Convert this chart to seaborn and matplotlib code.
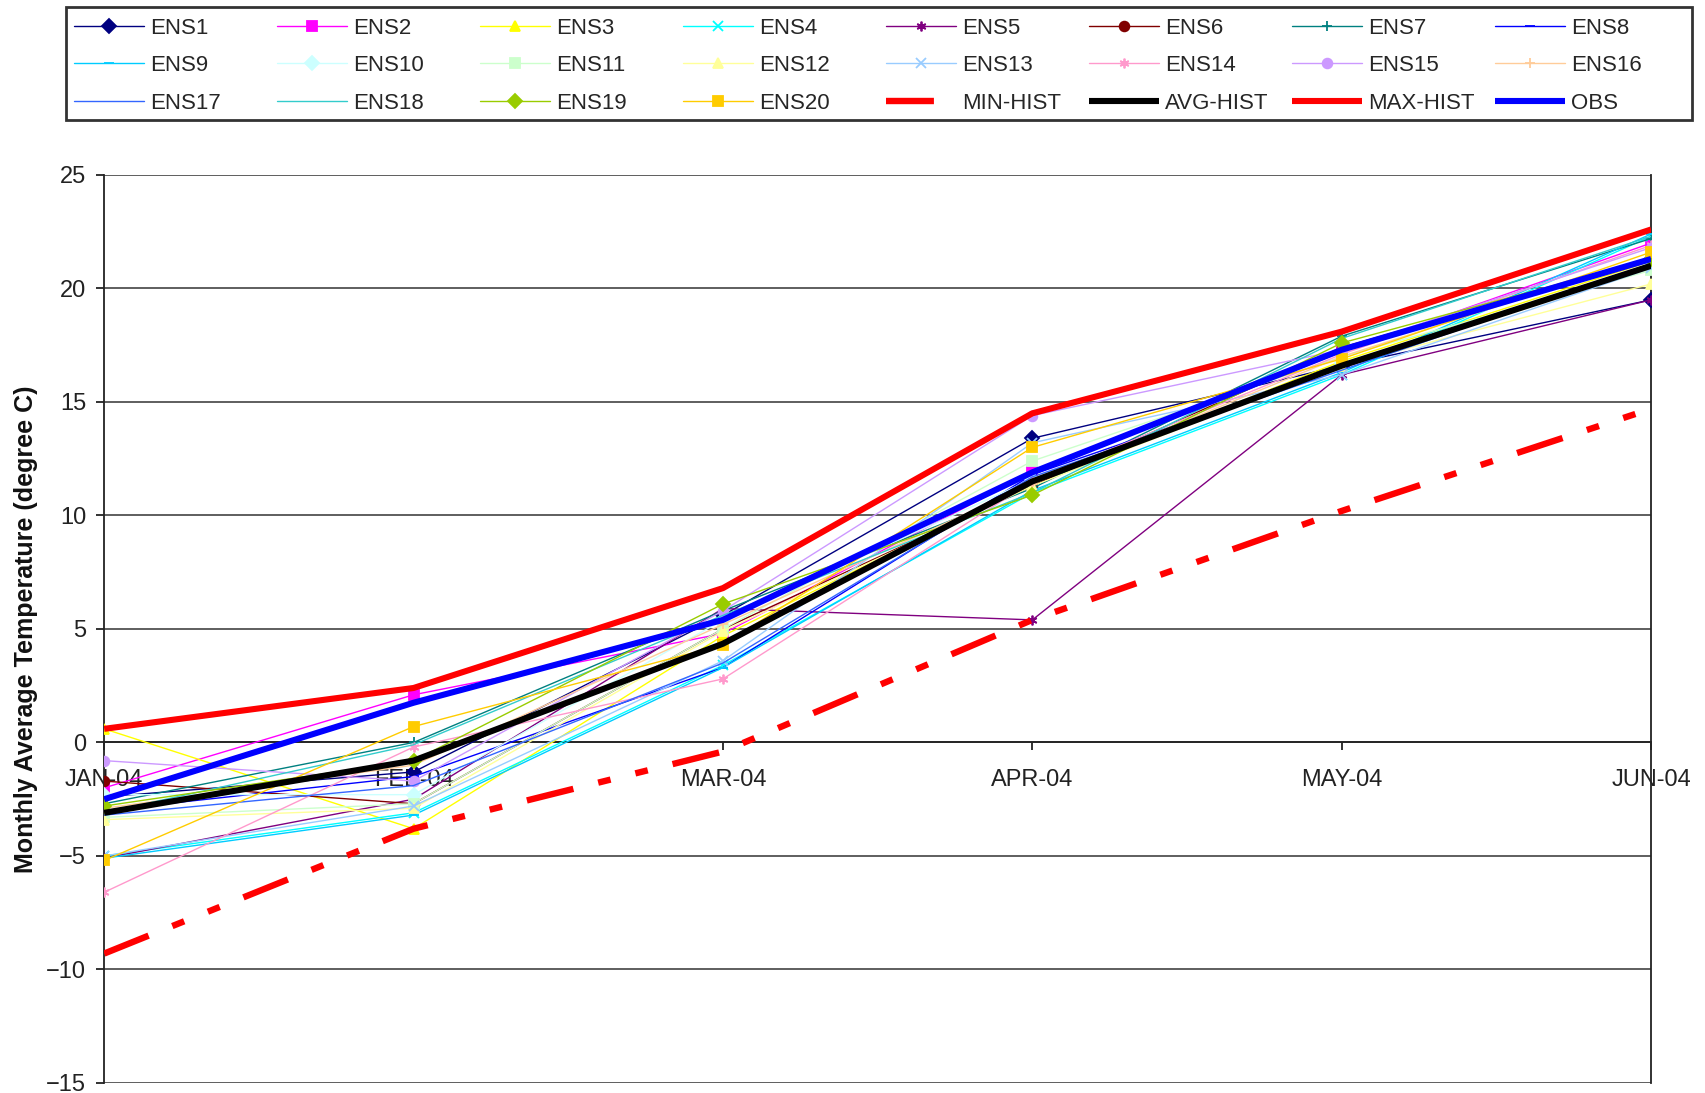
import numpy as np
import pandas as pd
import matplotlib
matplotlib.use("Agg")
import matplotlib.pyplot as plt
from matplotlib.patches import Rectangle
import seaborn as sns

months = ["JAN-04", "FEB-04", "MAR-04", "APR-04", "MAY-04", "JUN-04"]

ens1 = [-2.4, -1.3, 5.6, 13.4, 16.6, 19.5]
ens2 = [-2.0, 2.1, 4.8, 11.9, 17.2, 22.0]
ens3 = [0.6, -3.8, 4.7, 11.4, 16.8, 21.2]
ens4 = [-5.0, -3.1, 3.4, 11.0, 16.2, 22.3]
ens5 = [-5.1, -2.5, 5.9, 5.4, 16.2, 19.5]
ens6 = [-1.7, -2.7, 5.0, 11.3, 17.4, 21.3]
ens7 = [-2.7, 0.0, 5.8, 11.2, 17.9, 22.2]
ens8 = [-3.0, -1.5, 3.3, 11.8, 16.5, 21.0]
ens9 = [-5.1, -3.2, 3.3, 11.1, 16.3, 22.4]
ens10 = [-2.3, -2.3, 5.4, 11.6, 16.7, 21.0]
ens11 = [-3.3, -2.7, 5.0, 12.4, 17.0, 20.8]
ens12 = [-3.4, -2.9, 4.9, 11.3, 16.6, 20.2]
ens13 = [-5.0, -2.8, 3.6, 13.2, 16.2, 20.9]
ens14 = [-6.6, -0.2, 2.8, 11.5, 17.1, 21.9]
ens15 = [-0.8, -1.7, 5.8, 14.4, 17.3, 21.8]
ens16 = [-2.9, -1.0, 5.2, 11.4, 17.0, 21.4]
ens17 = [-3.2, -1.9, 3.5, 11.7, 16.4, 21.1]
ens18 = [-3.1, -0.1, 5.6, 11.0, 17.8, 22.3]
ens19 = [-2.8, -0.8, 6.1, 10.9, 17.6, 21.3]
ens20 = [-5.2, 0.7, 4.3, 13.0, 16.9, 21.6]
min_hist = [-9.3, -3.8, -0.4, 5.4, 10.2, 14.7]
avg_hist = [-3.1, -0.8, 4.35, 11.5, 16.6, 21.0]
max_hist = [0.6, 2.4, 6.8, 14.5, 18.1, 22.6]
obs = [-2.5, 1.75, 5.4, 11.9, 17.3, 21.3]

ens_values = [ens1, ens2, ens3, ens4, ens5, ens6, ens7, ens8, ens9, ens10,
              ens11, ens12, ens13, ens14, ens15, ens16, ens17, ens18, ens19, ens20]
ens_names = [f"ENS{i}" for i in range(1, 21)]
ens_colors = ["#000080", "#FF00FF", "#FFFF00", "#00FFFF", "#800080", "#800000",
              "#008080", "#0000FF", "#00CCFF", "#CCFFFF", "#CCFFCC", "#FFFF99",
              "#99CCFF", "#FF99CC", "#CC99FF", "#FFCC99", "#3366FF", "#33CCCC",
              "#99CC00", "#FFCC00"]
ens_markers = ["D", "s", "^", "x", (6, 2, 0), "o", "+", "_", "_", "D",
               "s", "^", "x", (6, 2, 0), "o", "+", None, None, "D", "s"]

sns.set_theme(style="white")
plt.rcParams["font.family"] = ["Liberation Sans", "DejaVu Sans"]

fig = plt.figure(figsize=(17.05, 10.93), dpi=100)
ax = fig.add_axes([0.0611, 0.0092, 0.9073, 0.8307])

x = np.arange(len(months))
handles = []
for name, vals, col, mk in zip(ens_names, ens_values, ens_colors, ens_markers):
    df = pd.DataFrame({"x": x, "y": vals})
    sns.lineplot(data=df, x="x", y="y", ax=ax, color=col, linewidth=1.0,
                 marker=mk if mk is not None else "", markersize=7,
                 markeredgecolor=col, markeredgewidth=1.3, label=name, zorder=3)
    handles.append(ax.get_lines()[-1])

specs = [("MIN-HIST", min_hist, "#FF0000", 4.6, (7.5, 4.0, 2.0, 4.0, 2.0, 4.0)),
         ("AVG-HIST", avg_hist, "#000000", 4.4, None),
         ("MAX-HIST", max_hist, "#FF0000", 4.4, None),
         ("OBS", obs, "#0000FF", 4.4, None)]
for name, vals, col, lw, dash in specs:
    df = pd.DataFrame({"x": x, "y": vals})
    sns.lineplot(data=df, x="x", y="y", ax=ax, color=col, linewidth=lw,
                 label=name, zorder=4)
    ln = ax.get_lines()[-1]
    ln.set_solid_capstyle("butt")
    if dash is not None:
        ln.set_dashes(dash)
        ln.set_dash_capstyle("butt")
    handles.append(ln)

if ax.get_legend() is not None:
    ax.get_legend().remove()

ax.set_xlim(0, 5)
ax.set_ylim(-15, 25)
ax.set_yticks(np.arange(-15, 26, 5))
ax.set_xticks(x)
ax.set_xticklabels(months)
ax.yaxis.grid(True, color="#333333", linewidth=1.1)
ax.xaxis.grid(False)
ax.set_axisbelow(True)
ax.set_xlabel("")
ax.set_ylabel("Monthly Average Temperature (degree C)", fontsize=18,
              fontweight="bold", color="#111111")
ax.yaxis.set_label_coords(-0.043, 0.5)

for s in ["left", "right"]:
    ax.spines[s].set_visible(True)
    ax.spines[s].set_color("#222222")
    ax.spines[s].set_linewidth(1.3)
ax.spines["top"].set_visible(False)
ax.spines["bottom"].set_position(("data", 0))
ax.spines["bottom"].set_color("#222222")
ax.spines["bottom"].set_linewidth(1.3)

ax.tick_params(axis="y", direction="out", length=6, width=1.3, pad=7,
               labelsize=17, colors="#222222", left=True)
ax.tick_params(axis="x", direction="out", length=6, width=1.3, pad=13,
               labelsize=17, colors="#222222", bottom=True)

# Legend: 8 equally spaced columns, 3 rows, filled row by row, inside one frame
all_names = ens_names + [s[0] for s in specs]
fig.patches.append(Rectangle((0.0387, 0.8902), 0.9537, 0.1034,
                             transform=fig.transFigure, fill=False,
                             edgecolor="#333333", linewidth=2.0, zorder=5))
for c in range(8):
    idx = [r * 8 + c for r in range(3)]
    fig.legend([handles[i] for i in idx], [all_names[i] for i in idx],
               loc="upper left", bbox_to_anchor=(0.0434 + 0.1191 * c, 0.9839),
               borderaxespad=0, borderpad=0, fontsize=16,
               handlelength=3.15, handletextpad=0.27, labelspacing=0.75,
               frameon=False)

fig.savefig("out.png", dpi=100)
